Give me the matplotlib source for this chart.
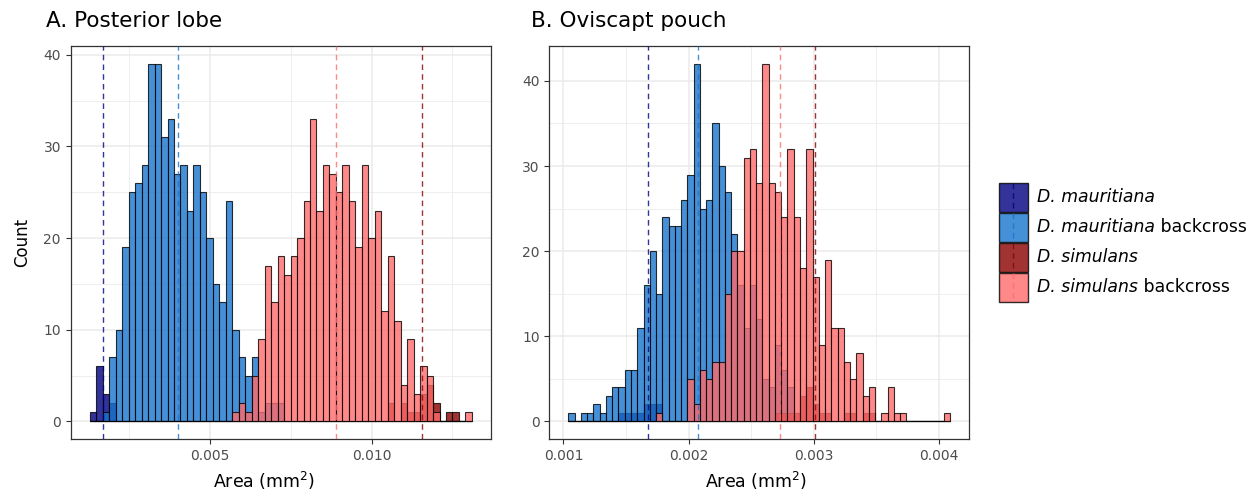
import numpy as np
import matplotlib
matplotlib.use("Agg")
import matplotlib.pyplot as plt
from matplotlib.patches import Rectangle

plt.rcParams['font.family'] = 'DejaVu Sans'

# groups, in drawing order
groups = ['mauritiana', 'mauritiana_bc', 'simulans', 'simulans_bc']
legend_species = ['D. mauritiana', 'D. mauritiana', 'D. simulans', 'D. simulans']
legend_suffix = ['', ' backcross', '', ' backcross']
fills = ['#000080', '#1874CD', '#8B0000', '#FF6A6A']

# A. posterior lobe: counts per bin (bins of 0.0002 mm2 from 0.0013)
lobe_bin_start = 0.0013
lobe_bin_width = 0.0002
lobe_maur = [1, 6, 3, 2, 0, 0, 0, 0, 0, 0,
             0, 0, 0, 0, 0, 0, 0, 0, 0, 0,
             0, 0, 0, 0, 0, 0, 0, 0, 0, 0,
             0, 0, 0, 0, 0, 0, 0, 0, 0, 0,
             0, 0, 0, 0, 0, 0, 0, 0, 0, 0,
             0, 0, 0, 0, 0, 0, 0, 0, 0]
lobe_maur_bc = [0, 0, 1, 7, 10, 19, 25, 26, 28, 39,
                39, 31, 33, 27, 28, 23, 28, 25, 20, 15,
                13, 24, 10, 7, 5, 7, 1, 2, 2, 2,
                0, 0, 0, 0, 0, 0, 0, 0, 0, 0,
                0, 0, 0, 0, 0, 0, 0, 0, 0, 0,
                0, 0, 0, 0, 0, 0, 0, 0, 0]
lobe_sim = [0, 0, 0, 0, 0, 0, 0, 0, 0, 0,
            0, 0, 0, 0, 0, 0, 0, 0, 0, 0,
            0, 0, 0, 0, 0, 0, 0, 0, 0, 0,
            0, 0, 0, 0, 0, 0, 0, 0, 0, 0,
            0, 0, 0, 0, 0, 0, 2, 0, 2, 1,
            1, 3, 4, 2, 0, 1, 1, 0, 0]
lobe_sim_bc = [0, 0, 0, 0, 0, 0, 0, 0, 0, 0,
               0, 0, 0, 0, 0, 0, 0, 0, 0, 0,
               0, 0, 1, 2, 1, 5, 9, 17, 13, 18,
               16, 18, 20, 24, 33, 23, 28, 27, 25, 28,
               24, 19, 28, 20, 23, 12, 18, 11, 4, 9,
               3, 6, 5, 1, 0, 0, 0, 0, 1]
lobe_means = [0.001715, 0.00401, 0.01156, 0.00890]
lobe_ticks = [0.005, 0.010]
lobe_ticklabels = ['0.005', '0.010']
lobe_minor = [0.0025, 0.0075, 0.0125]

# B. oviscapt pouch: counts per bin (bins of 0.00005 mm2 from 0.00104)
pouch_bin_start = 0.00104
pouch_bin_width = 0.00005
pouch_maur = [0, 0, 0, 0, 0, 0, 0, 0, 1, 1,
              1, 1, 2, 2, 2, 0, 0, 0, 0, 0,
              0, 0, 0, 0, 0, 0, 0, 0, 0, 0,
              0, 0, 0, 0, 0, 0, 0, 0, 0, 0,
              0, 0, 0, 0, 0, 0, 0, 0, 0, 0,
              0, 0, 0, 0, 0, 0, 0, 0, 0, 0, 0]
pouch_maur_bc = [1, 0, 1, 1, 2, 1, 3, 4, 4, 6,
                 6, 11, 16, 20, 15, 24, 23, 23, 26, 29,
                 42, 25, 26, 35, 30, 27, 22, 16, 11, 16,
                 12, 5, 4, 9, 6, 4, 0, 0, 0, 0,
                 0, 0, 0, 0, 0, 0, 0, 0, 0, 0,
                 0, 0, 0, 0, 0, 0, 0, 0, 0, 0, 0]
pouch_sim = [0, 0, 0, 0, 0, 0, 0, 0, 0, 0,
             0, 0, 0, 0, 0, 0, 0, 0, 0, 0,
             0, 0, 0, 0, 0, 0, 0, 0, 0, 0,
             0, 0, 0, 1, 1, 1, 1, 3, 4, 2,
             1, 1, 0, 0, 1, 1, 0, 1, 1, 0,
             0, 0, 0, 0, 0, 0, 0, 0, 0, 0, 0]
pouch_sim_bc = [0, 0, 0, 0, 0, 0, 0, 0, 0, 0,
                0, 0, 0, 0, 1, 0, 0, 0, 0, 5,
                2, 6, 5, 7, 7, 15, 20, 20, 31, 32,
                28, 42, 28, 27, 24, 32, 24, 18, 32, 17,
                9, 19, 11, 11, 7, 5, 8, 3, 4, 0,
                1, 4, 1, 1, 0, 0, 0, 0, 0, 0, 1]
pouch_means = [0.001677, 0.002077, 0.003006, 0.00273]
pouch_ticks = [0.001, 0.002, 0.003, 0.004]
pouch_ticklabels = ['0.001', '0.002', '0.003', '0.004']
pouch_minor = [0.0015, 0.0025, 0.0035]


def draw_panel(ax, start, width, counts, means, ticks, ticklabels, minor):
    edges = start + width * np.arange(len(counts[0]) + 1)
    for c, fc in zip(counts, fills):
        ax.bar(edges[:-1], c, width=width, align='edge', color=fc, alpha=0.8,
               edgecolor='black', linewidth=0.8, zorder=2)
    for m, fc in zip(means, fills):
        ax.axvline(m, color=fc, alpha=0.8, lw=1.0, ls=(0, (4, 3)), zorder=3)
    pad = 0.05 * (edges[-1] - edges[0])
    ax.set_xlim(edges[0] - pad, edges[-1] + pad)
    top = max(max(c) for c in counts)
    ax.set_ylim(-0.05 * top, 1.05 * top)
    ax.set_xticks(ticks)
    ax.set_xticklabels(ticklabels)
    ax.set_xticks(minor, minor=True)
    ax.set_yticks([0, 10, 20, 30, 40])
    ax.set_yticks([5, 15, 25, 35], minor=True)
    ax.set_axisbelow(True)
    ax.grid(which='major', color='#ebebeb', lw=1.1, zorder=0)
    ax.grid(which='minor', color='#ebebeb', lw=0.6, zorder=0)
    ax.tick_params(which='major', length=3.5, width=0.8, color='#333333',
                   labelcolor='#4d4d4d', labelsize=10)
    ax.tick_params(which='minor', length=0)
    for s in ax.spines.values():
        s.set_color('#333333')
        s.set_linewidth(0.9)


fig = plt.figure(figsize=(12.6, 4.98), dpi=100)

axA = fig.add_axes([70.7 / 1260, 58.7 / 498, 420.3 / 1260, 393.3 / 498])
draw_panel(axA, lobe_bin_start, lobe_bin_width,
           [lobe_maur, lobe_maur_bc, lobe_sim, lobe_sim_bc],
           lobe_means, lobe_ticks, lobe_ticklabels, lobe_minor)
axA.set_ylabel('Count', fontsize=12)
axA.yaxis.set_label_coords(-0.116, 0.5)
axA.yaxis.label.set_va('center')
axA.set_xlabel('Area (mm$^2$)', fontsize=12.5)
axA.xaxis.set_label_coords(0.46, -0.078)

axB = fig.add_axes([549.3 / 1260, 58.7 / 498, 420 / 1260, 393.3 / 498])
draw_panel(axB, pouch_bin_start, pouch_bin_width,
           [pouch_maur, pouch_maur_bc, pouch_sim, pouch_sim_bc],
           pouch_means, pouch_ticks, pouch_ticklabels, pouch_minor)
axB.set_xlabel('Area (mm$^2$)', fontsize=12.5)
axB.xaxis.set_label_coords(0.492, -0.078)

fig.text(46 / 1260, 1 - 26.7 / 498, 'A. Posterior lobe', fontsize=15.5, va='baseline')
fig.text(531 / 1260, 1 - 26.7 / 498, 'B. Oviscapt pouch', fontsize=15.5, va='baseline')

# legend drawn by hand so each key can carry the dashed mean line
leg = fig.add_axes([0, 0, 1, 1], zorder=5)
leg.set_xlim(0, 1260)
leg.set_ylim(498, 0)
leg.axis('off')
for i, fc in enumerate(fills):
    y0 = 182.5 + 30 * i
    leg.add_patch(Rectangle((998.5, y0), 29, 29, facecolor=fc, alpha=0.8,
                            edgecolor='black', lw=1.0))
    leg.plot([1013, 1013], [y0, y0 + 29], color=fc, alpha=0.8, lw=1.0, ls=(0, (4, 3)))
    t = leg.text(1036.7, y0 + 14.5, legend_species[i], fontsize=12.4,
                 fontstyle='italic', va='center', ha='left')
    if legend_suffix[i]:
        leg.annotate(legend_suffix[i], xy=(1, 0), xycoords=t, fontsize=12.4,
                     va='bottom', ha='left')

fig.savefig('out.png', dpi=100)
